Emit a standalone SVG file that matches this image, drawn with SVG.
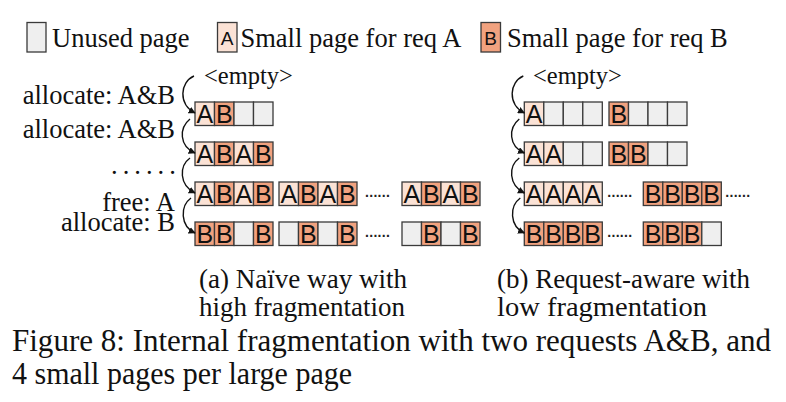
<svg xmlns="http://www.w3.org/2000/svg" width="786" height="402" viewBox="0 0 786 402">
<style>
.u{fill:#efefef;stroke:#3a3a3a;stroke-width:1.3}
.a{fill:#fbe2d5;stroke:#3a3a3a;stroke-width:1.3}
.b{fill:#f1a27f;stroke:#3a3a3a;stroke-width:1.3}
.l{font-family:"Liberation Sans",Arial,sans-serif;font-size:25px;fill:#111;text-anchor:middle}
.ll{font-family:"Liberation Sans",Arial,sans-serif;font-size:19px;fill:#111;text-anchor:middle}
.t{font-family:"Liberation Serif","Times New Roman",serif;font-size:26.5px;fill:#111}
.r{text-anchor:end}
.d{font-family:"Liberation Sans",Arial,sans-serif;font-size:14px;font-weight:bold;fill:#222;letter-spacing:0.3px}
.c{font-family:"Liberation Serif","Times New Roman",serif;font-size:27px;fill:#111}
.cc{font-family:"Liberation Serif","Times New Roman",serif;font-size:31px;fill:#111}
.ar{fill:none;stroke:#111;stroke-width:1.4;marker-end:url(#ah)}
</style>
<defs>
<marker id="ah" viewBox="0 0 10 10" refX="9" refY="5" markerWidth="7" markerHeight="7" markerUnits="userSpaceOnUse" orient="auto">
<path d="M0 0 L10 5 L0 10 z" fill="#111"/>
</marker>
<g id="cu"><rect class="u" x="0" y="0" width="19.5" height="23.5"/></g>
<g id="ca"><rect class="a" x="0" y="0" width="19.5" height="23.5"/><text class="l" x="9.75" y="21.3">A</text></g>
<g id="cb"><rect class="b" x="0" y="0" width="19.5" height="23.5"/><text class="l" x="9.75" y="21.3">B</text></g>
</defs>

<g id="legend">
<rect class="u" x="27" y="22.5" width="19" height="29.5"/>
<text class="t" x="52" y="46.5">Unused page</text>
<rect class="a" x="217.5" y="22.5" width="19.5" height="29.5"/>
<text class="ll" x="227.2" y="44.8">A</text>
<text class="t" x="240.5" y="46.5">Small page for req A</text>
<rect class="b" x="481" y="22.5" width="19.5" height="29.5"/>
<text class="ll" x="490.7" y="44.8">B</text>
<text class="t" x="507" y="46.5">Small page for req B</text>
</g>

<g id="labels-left">
<text class="t r" x="175" y="104">allocate: A&amp;B</text>
<text class="t r" x="175" y="138">allocate: A&amp;B</text>
<text class="t" x="111" y="173.5" style="letter-spacing:5px">......</text>
<text class="t r" x="175" y="210.5">free: A</text>
<text class="t r" x="175" y="231">allocate: B</text>
<text class="t" x="204" y="84" style="font-size:24.5px">&lt;empty&gt;</text>
</g>

<g id="naive">
<g id="n-r1" transform="translate(195,102)">
<use href="#ca" x="0"/><use href="#cb" x="19.5"/><use href="#cu" x="39"/><use href="#cu" x="58.5"/>
</g>
<g id="n-r2" transform="translate(195,142)">
<use href="#ca" x="0"/><use href="#cb" x="19.5"/><use href="#ca" x="39"/><use href="#cb" x="58.5"/>
</g>
<g id="n-r3" transform="translate(195,182)">
<use href="#ca" x="0"/><use href="#cb" x="19.5"/><use href="#ca" x="39"/><use href="#cb" x="58.5"/>
<use href="#ca" x="84"/><use href="#cb" x="103.5"/><use href="#ca" x="123"/><use href="#cb" x="142.5"/>
<text class="d" x="170" y="15">......</text>
<use href="#ca" x="207"/><use href="#cb" x="226.5"/><use href="#ca" x="246"/><use href="#cb" x="265.5"/>
</g>
<g id="n-r4" transform="translate(195,222)">
<use href="#cb" x="0"/><use href="#cb" x="19.5"/><use href="#cu" x="39"/><use href="#cb" x="58.5"/>
<use href="#cu" x="84"/><use href="#cb" x="103.5"/><use href="#cu" x="123"/><use href="#cb" x="142.5"/>
<text class="d" x="170" y="15">......</text>
<use href="#cu" x="207"/><use href="#cb" x="226.5"/><use href="#cu" x="246"/><use href="#cb" x="265.5"/>
</g>
</g>

<g id="aware">
<text class="t" x="533" y="84" style="font-size:24.5px">&lt;empty&gt;</text>
<g id="w-r1" transform="translate(524.3,102)">
<use href="#ca" x="0"/><use href="#cu" x="19.5"/><use href="#cu" x="39"/><use href="#cu" x="58.5"/>
<use href="#cb" x="84.7"/><use href="#cu" x="104.2"/><use href="#cu" x="123.7"/><use href="#cu" x="143.2"/>
</g>
<g id="w-r2" transform="translate(524.3,142)">
<use href="#ca" x="0"/><use href="#ca" x="19.5"/><use href="#cu" x="39"/><use href="#cu" x="58.5"/>
<use href="#cb" x="84.7"/><use href="#cb" x="104.2"/><use href="#cu" x="123.7"/><use href="#cu" x="143.2"/>
</g>
<g id="w-r3" transform="translate(524.3,182)">
<use href="#ca" x="0"/><use href="#ca" x="19.5"/><use href="#ca" x="39"/><use href="#ca" x="58.5"/>
<text class="d" x="83" y="15">......</text>
<use href="#cb" x="119"/><use href="#cb" x="138.5"/><use href="#cb" x="158"/><use href="#cb" x="177.5"/>
<text class="d" x="201" y="15">......</text>
</g>
<g id="w-r4" transform="translate(524.3,222)">
<use href="#cb" x="0"/><use href="#cb" x="19.5"/><use href="#cb" x="39"/><use href="#cb" x="58.5"/>
<text class="d" x="83" y="15">......</text>
<use href="#cb" x="119"/><use href="#cb" x="138.5"/><use href="#cb" x="158"/><use href="#cu" x="177.5"/>
</g>
</g>

<g id="connectors">
<path class="ar" d="M194 76 C180 82,178 104,195 113"/>
<path class="ar" d="M190 119 C179 128,179 146,195 153"/>
<path class="ar" d="M190 158 C179 166,179 185,195 193"/>
<path class="ar" d="M191 198 C180 206,180 226,195 233"/>
<path class="ar" d="M523.3 76 C509.3 82,507.3 104,524.3 113"/>
<path class="ar" d="M519.3 119 C508.3 128,508.3 146,524.3 153"/>
<path class="ar" d="M519.3 158 C508.3 166,508.3 185,524.3 193"/>
<path class="ar" d="M520.3 198 C509.3 206,509.3 226,524.3 233"/>
</g>

<g id="captions">
<text class="c" x="199" y="288" textLength="208" lengthAdjust="spacingAndGlyphs">(a) Naïve way with</text>
<text class="c" x="199" y="316" textLength="206" lengthAdjust="spacingAndGlyphs">high fragmentation</text>
<text class="c" x="497" y="288" textLength="253" lengthAdjust="spacingAndGlyphs">(b) Request-aware with</text>
<text class="c" x="497" y="316" textLength="210" lengthAdjust="spacingAndGlyphs">low fragmentation</text>
<text class="cc" x="12" y="351" textLength="759" lengthAdjust="spacingAndGlyphs">Figure 8: Internal fragmentation with two requests A&amp;B, and</text>
<text class="cc" x="12" y="384" textLength="340" lengthAdjust="spacingAndGlyphs">4 small pages per large page</text>
</g>
</svg>
